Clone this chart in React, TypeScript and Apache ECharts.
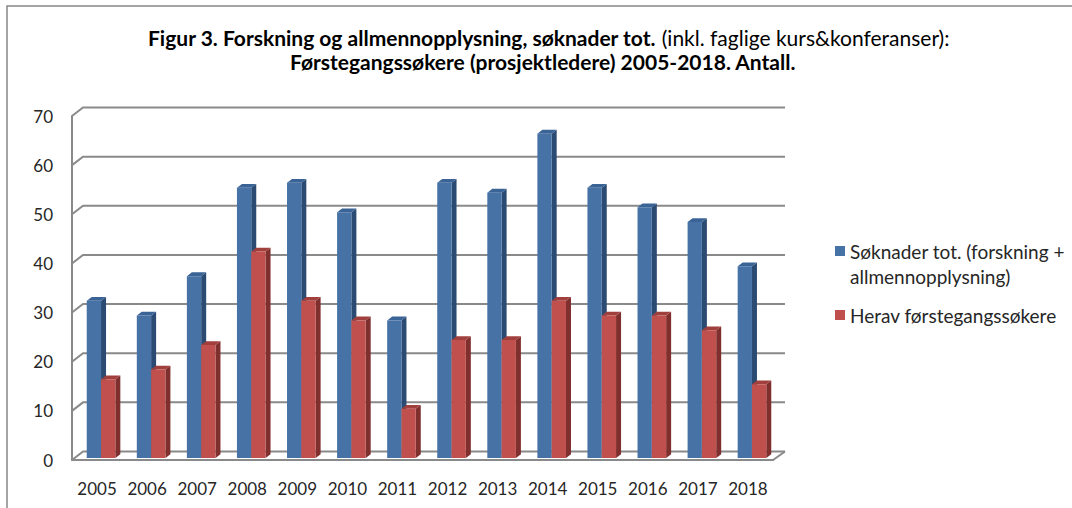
import React, { useEffect, useRef } from "react";
import * as echarts from "echarts";

const years = ["2005", "2006", "2007", "2008", "2009", "2010", "2011", "2012", "2013", "2014", "2015", "2016", "2017", "2018"];
const totalApps = [32, 29, 37, 55, 56, 50, 28, 56, 54, 66, 55, 51, 48, 39];
const firstTime = [16, 18, 23, 42, 32, 28, 10, 24, 24, 32, 29, 29, 26, 15];
const yTicks = [0, 10, 20, 30, 40, 50, 60, 70];

const seriesNames = ["Søknader tot. (forskning +\nallmennopplysning)", "Herav førstegangssøkere"];
const titleLine1Bold = "Figur 3. Forskning og allmennopplysning, søknader tot.";
const titleLine1Normal = " (inkl. faglige kurs&konferanser):";
const titleLine2 = "Førstegangssøkere (prosjektledere) 2005-2018. Antall.";

const FONT = "Lato, 'Open Sans', sans-serif";
const GREY = "#8a8a8a";
const DX = 5;
const DY = -3.8;
const WX = 11;
const WY = -8.5;

// legend icons: a 10x10 square placed at the top / middle of a 10x35 box
const ICON_TOP = "path://M0,0L10,0L10,10L0,10Z M0,35L0.01,35L0,35Z";
const ICON_MID = "path://M0,12.5L10,12.5L10,22.5L0,22.5Z M0,0L0.01,0L0,0Z M0,35L0.01,35L0,35Z";

function barRender(offL: number, offR: number, front: string, side: string, top: string) {
  return (params: any, api: any) => {
    const i = api.value(0);
    const v = api.value(1);
    const base = api.coord([i, 0]);
    const tp = api.coord([i, v]);
    const cx = base[0];
    const L = cx + offL;
    const R = cx + offR;
    const B = base[1] - 2;
    const T = tp[1] - 2;
    return {
      type: "group",
      children: [
        { type: "polygon", shape: { points: [[R, T], [R + DX, T + DY], [R + DX, B + DY], [R, B]] }, style: { fill: side } },
        { type: "polygon", shape: { points: [[L, T], [R, T], [R + DX, T + DY], [L + DX, T + DY]] }, style: { fill: top } },
        { type: "rect", shape: { x: L, y: T, width: R - L, height: B - T }, style: { fill: front } },
      ],
    };
  };
}

function wallRender(params: any, api: any) {
  const cs = params.coordSys;
  const v = api.value(1);
  const y = api.coord([0, v])[1];
  const children: any[] = [
    {
      type: "polyline",
      shape: { points: [[cs.x, y], [cs.x + WX, y + WY], [cs.x + cs.width + 12, y + WY]] },
      style: { stroke: GREY, lineWidth: 2, fill: null },
    },
  ];
  if (v === 0) {
    children.push({
      type: "polyline",
      shape: { points: [[cs.x, y], [cs.x + cs.width, y], [cs.x + cs.width + 12, y + WY]] },
      style: { stroke: GREY, lineWidth: 2, fill: null },
    });
  }
  return { type: "group", children };
}

export default function App() {
  const ref = useRef<HTMLDivElement>(null);
  useEffect(() => {
    if (!ref.current) return;
    const chart = echarts.init(ref.current, null, { renderer: "svg" });
    chart.setOption({
      animation: false,
      backgroundColor: "#ffffff",
      title: [
        {
          left: 143,
          top: 22,
          text: `{b|${titleLine1Bold}}{n|${titleLine1Normal}}`,
          textStyle: {
            rich: {
              b: { fontFamily: FONT, fontSize: 21, fontWeight: "bold", color: "#000" },
              n: { fontFamily: FONT, fontSize: 21, fontWeight: "normal", color: "#000" },
            },
          },
        },
        {
          left: 285,
          top: 46,
          text: titleLine2,
          textStyle: { fontFamily: FONT, fontSize: 21, fontWeight: "bold", color: "#000" },
        },
      ],
      graphic: [
        {
          type: "rect",
          shape: { x: 7, y: 6, width: 1200, height: 700 },
          style: { fill: null, stroke: "#868686", lineWidth: 1.5 },
          silent: true,
          z: -10,
        },
      ],
      legend: {
        orient: "vertical",
        left: 830,
        top: 233.5,
        itemWidth: 10,
        itemHeight: 35,
        itemGap: 9,
        symbolKeepAspect: true,
        textStyle: { fontFamily: FONT, fontSize: 19, color: "#262626", lineHeight: 25 },
        data: [
          { name: seriesNames[0], icon: ICON_TOP },
          { name: seriesNames[1], icon: ICON_MID },
        ],
      },
      grid: { left: 72, right: 299, top: 116, bottom: 48 },
      xAxis: {
        type: "category",
        data: years,
        boundaryGap: true,
        axisLine: { show: true, lineStyle: { color: GREY, width: 2 } },
        axisTick: { show: false },
        axisLabel: { interval: 0, fontFamily: FONT, fontSize: 17, color: "#262626", margin: 20 },
        splitLine: { show: false },
      },
      yAxis: {
        type: "value",
        min: 0,
        max: 70,
        interval: 10,
        axisLine: { show: true, lineStyle: { color: GREY, width: 2 } },
        axisTick: { show: false },
        axisLabel: { fontFamily: FONT, fontSize: 17, color: "#262626", margin: 19 },
        splitLine: { show: false },
      },
      series: [
        {
          type: "custom",
          name: "walls",
          silent: true,
          z: 1,
          renderItem: wallRender,
          data: yTicks.map((v) => [0, v]),
          encode: { x: 0, y: 1 },
        },
        {
          type: "custom",
          name: seriesNames[0],
          z: 2,
          itemStyle: { color: "#4672A6" },
          renderItem: barRender(-10.3, 4, "#4672A6", "#2C4B73", "#3A6396"),
          data: totalApps.map((v, i) => [i, v]),
          encode: { x: 0, y: 1 },
        },
        {
          type: "custom",
          name: seriesNames[1],
          z: 3,
          itemStyle: { color: "#C0504D" },
          renderItem: barRender(4, 18.3, "#C0504D", "#7F2F2D", "#A03F3C"),
          data: firstTime.map((v, i) => [i, v]),
          encode: { x: 0, y: 1 },
        },
      ],
    });
    return () => chart.dispose();
  }, []);
  return (
    <div
      ref={ref}
      style={{ position: "fixed", left: 0, top: 0, width: 1072, height: 508, background: "#fff" }}
    />
  );
}
